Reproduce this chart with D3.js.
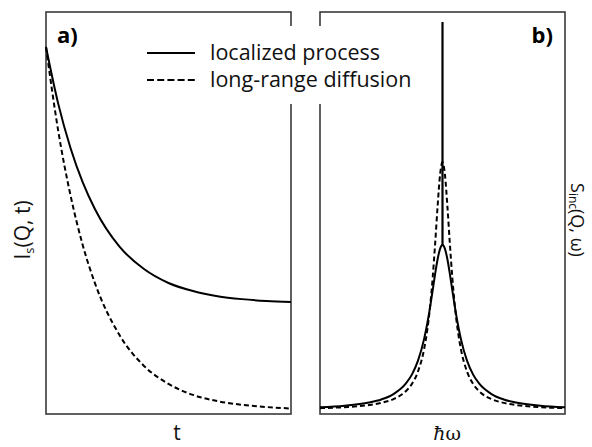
<html>
<head>
  <meta charset="utf-8" />
  <script src="https://d3js.org/d3.v7.min.js"></script>
</head>
<body style="margin: 0; background: white">
<script>

// panel a: intermediate scattering function vs time
const tA = [0, 0.25, 0.5, 0.75, 1, 1.5, 2, 2.5, 3, 3.5, 4, 4.5, 5];
const localizedA = [1.000, 0.845, 0.725, 0.631, 0.558, 0.456, 0.395, 0.357, 0.335, 0.321, 0.313, 0.308, 0.305];
const diffusionA = [1.000, 0.771, 0.596, 0.460, 0.356, 0.215, 0.131, 0.082, 0.052, 0.035, 0.025, 0.019, 0.015];

// panel b: incoherent scattering function vs energy transfer
const omegaB = [-1, -0.8, -0.6, -0.5, -0.4, -0.3, -0.25, -0.2, -0.15, -0.125, -0.1, -0.08, -0.06, -0.04, -0.02, 0,
                0.02, 0.04, 0.06, 0.08, 0.1, 0.125, 0.15, 0.2, 0.25, 0.3, 0.4, 0.5, 0.6, 0.8, 1];
const localizedB = [0.0071, 0.0110, 0.0192, 0.0271, 0.0410, 0.0677, 0.0911, 0.1271, 0.1833, 0.2218, 0.2679, 0.3091, 0.3510, 0.3886, 0.4153, 0.425,
                    0.4153, 0.3886, 0.3510, 0.3091, 0.2679, 0.2218, 0.1833, 0.1271, 0.0911, 0.0677, 0.0410, 0.0271, 0.0192, 0.0110, 0.0071];
const diffusionB = [0.0047, 0.0073, 0.0128, 0.0183, 0.0281, 0.0482, 0.0672, 0.0992, 0.1573, 0.2044, 0.2707, 0.3416, 0.4289, 0.5248, 0.6060, 0.639,
                    0.6060, 0.5248, 0.4289, 0.3416, 0.2707, 0.2044, 0.1573, 0.0992, 0.0672, 0.0482, 0.0281, 0.0183, 0.0128, 0.0073, 0.0047];
const elasticTop = 1.0;

const legendLabels = ['localized process', 'long-range diffusion'];

const W = 592, H = 447;
const font = "'Open Sans', sans-serif";

var svg = d3.select("body").append("svg")
  .attr("width", W)
  .attr("height", H)
  .style("font-family", font)

let boxTop = 12, boxBottom = 414;

let xA = d3.scaleLinear().domain([0, 5]).range([46, 291]);
let yA = d3.scaleLinear().domain([0, 1]).range([414, 47]);
let xB = d3.scaleLinear().domain([-1, 1]).range([320, 565]);
let yB = d3.scaleLinear().domain([0, 1]).range([410, 22]);

// frames
svg.append("rect")
  .attr("x", xA.range()[0]).attr("y", boxTop)
  .attr("width", xA.range()[1] - xA.range()[0]).attr("height", boxBottom - boxTop)
  .attr("fill", "none").attr("stroke", "#3a3a3a").attr("stroke-width", 1.6)
svg.append("rect")
  .attr("x", xB.range()[0]).attr("y", boxTop)
  .attr("width", xB.range()[1] - xB.range()[0]).attr("height", boxBottom - boxTop)
  .attr("fill", "none").attr("stroke", "#3a3a3a").attr("stroke-width", 1.6)

let lineA = d3.line().x(d => xA(d[0])).y(d => yA(d[1])).curve(d3.curveMonotoneX);
let lineB = d3.line().x(d => xB(d[0])).y(d => yB(d[1])).curve(d3.curveMonotoneX);

svg.append("path")
  .attr("d", lineA(d3.zip(tA, diffusionA)))
  .attr("fill", "none").attr("stroke", "#000").attr("stroke-width", 2)
  .attr("stroke-dasharray", "5,3")
svg.append("path")
  .attr("d", lineA(d3.zip(tA, localizedA)))
  .attr("fill", "none").attr("stroke", "#000").attr("stroke-width", 2)

svg.append("path")
  .attr("d", lineB(d3.zip(omegaB, diffusionB)))
  .attr("fill", "none").attr("stroke", "#000").attr("stroke-width", 2)
  .attr("stroke-dasharray", "5,3")
svg.append("path")
  .attr("d", lineB(d3.zip(omegaB, localizedB)))
  .attr("fill", "none").attr("stroke", "#000").attr("stroke-width", 2)

// elastic line
svg.append("line")
  .attr("x1", xB(0)).attr("x2", xB(0))
  .attr("y1", yB(d3.max(localizedB))).attr("y2", yB(elasticTop))
  .attr("stroke", "#000").attr("stroke-width", 2.2)

// legend (white box covers the frame edges)
let legend = svg.append("g")
legend.append("rect")
  .attr("x", 138).attr("y", 26).attr("width", 278).attr("height", 78)
  .attr("fill", "white")
legendLabels.forEach((lab, i) => {
  let y = 53 + i * 27;
  legend.append("line")
    .attr("x1", 147).attr("x2", 195).attr("y1", y).attr("y2", y)
    .attr("stroke", "#000").attr("stroke-width", 2)
    .attr("stroke-dasharray", i == 1 ? "7,3.2" : null)
  legend.append("text")
    .attr("x", 210).attr("y", y + 7)
    .attr("font-size", 21.5)
    .attr("fill", "#111")
    .text(lab)
})

// panel tags
svg.append("text").attr("x", 57).attr("y", 43)
  .attr("font-size", 22).attr("font-weight", "bold").text("a)")
svg.append("text").attr("x", 553).attr("y", 43).attr("text-anchor", "end")
  .attr("font-size", 22).attr("font-weight", "bold").text("b)")

// axis titles
svg.append("text").attr("x", 177).attr("y", 440).attr("text-anchor", "middle")
  .attr("font-size", 21).attr("fill", "#111").text("t")
let xl = svg.append("text").attr("x", 447).attr("y", 440).attr("text-anchor", "middle")
  .attr("font-size", 21).attr("fill", "#111")
xl.append("tspan").attr("font-family", "'DejaVu Serif', serif").attr("font-style", "italic").attr("font-size", 19).text("ħ")
xl.append("tspan").attr("font-family", "'DejaVu Serif', serif").attr("font-size", 19).text("ω")

let yl = svg.append("text")
  .attr("transform", "translate(30,230) rotate(-90)")
  .attr("text-anchor", "middle").attr("font-size", 21).attr("fill", "#111")
yl.append("tspan").text("I")
yl.append("tspan").attr("font-size", 13).attr("dy", 4).text("s")
yl.append("tspan").attr("dy", -4).text("(Q, t)")

let yr = svg.append("text")
  .attr("transform", "translate(571,183) rotate(90)")
  .attr("text-anchor", "start").attr("font-size", 18).attr("fill", "#111")
yr.append("tspan").text("S")
yr.append("tspan").attr("font-size", 12).attr("dy", 2.5).text("inc")
yr.append("tspan").attr("dy", -2.5).text("(Q, ω)")

</script>
</body>
</html>
